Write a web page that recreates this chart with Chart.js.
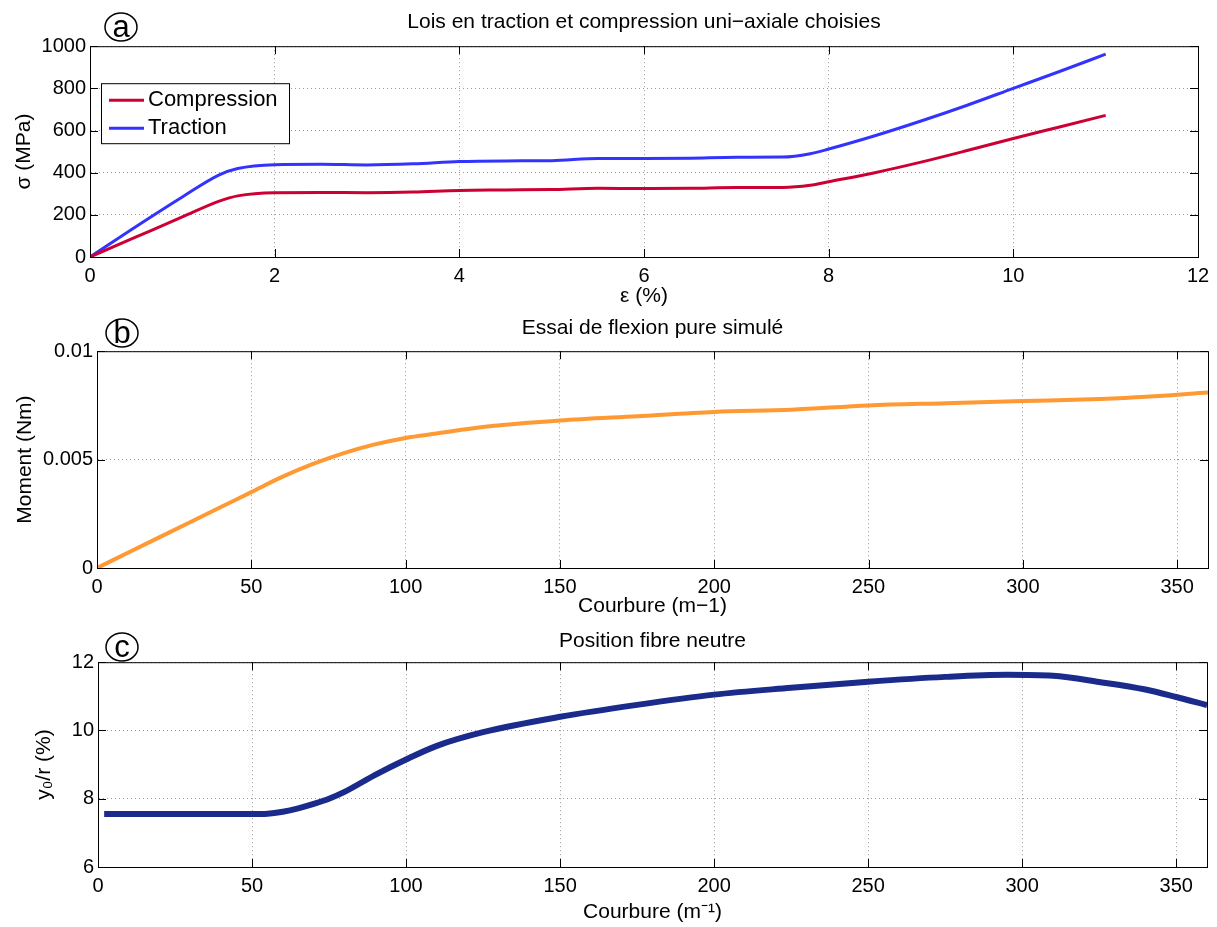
<!DOCTYPE html>
<html>
<head>
<meta charset="utf-8">
<script src="https://cdn.jsdelivr.net/npm/chart.js@4"></script>
<style>
  body { margin: 0; background: #fff; }
  .panel { position: absolute; left: 0; width: 1217px; }
</style>
</head>
<body>
<div class="panel" style="top:0;height:310px"><canvas id="chartA"></canvas></div>
<div class="panel" style="top:310px;height:310px"><canvas id="chartB"></canvas></div>
<div class="panel" style="top:620px;height:307px"><canvas id="chartC"></canvas></div>
<script>
// (a) uni-axial laws, strain in %
const strain = [0, 0.5, 1, 1.4, 1.6, 2, 2.5, 3, 3.5, 4, 4.5, 5, 5.5, 6, 6.5, 7, 7.5, 7.8, 8, 8.5, 9, 9.5, 10, 10.5, 11];
const compression = [0, 95, 190, 265, 290, 305, 306, 305, 308, 316, 318, 320, 326, 325, 326, 330, 330, 340, 357, 400, 450, 505, 562, 617, 672];
const traction = [0, 145, 285, 390, 420, 438, 440, 437, 442, 453, 456, 457, 467, 467, 469, 473, 474, 490, 512, 575, 645, 720, 800, 880, 962];

// (b) simulated pure bending
const curvB = [0, 10, 20, 30, 40, 50, 60, 70, 80, 90, 100, 110, 125, 150, 175, 200, 225, 250, 275, 300, 325, 340, 360];
const moment = [0, 0.0007, 0.0014, 0.0021, 0.0028, 0.0035, 0.0042, 0.0048, 0.0053, 0.0057, 0.0060, 0.0062, 0.0065, 0.0068, 0.0070, 0.0072, 0.0073, 0.0075, 0.0076, 0.0077, 0.0078, 0.0079, 0.0081];

// (c) neutral fibre position
const curvC = [2, 10, 20, 30, 40, 50, 55, 60, 65, 70, 75, 80, 90, 100, 110, 125, 150, 175, 200, 225, 250, 275, 295, 310, 325, 340, 350, 360];
const neutral = [7.55, 7.55, 7.55, 7.55, 7.55, 7.55, 7.56, 7.62, 7.72, 7.85, 8.0, 8.2, 8.7, 9.15, 9.55, 9.95, 10.4, 10.75, 11.05, 11.25, 11.43, 11.57, 11.63, 11.6, 11.42, 11.2, 10.98, 10.74];

const FONT = '"Liberation Sans", Arial, sans-serif';
Chart.defaults.color = '#000';
Chart.defaults.font.family = FONT;

const toXY = (xs, ys) => xs.map((x, i) => ({ x: x, y: ys[i] }));

// black box round the plot with inward ticks, like matlab
const frame = {
  id: 'frame',
  afterDatasetsDraw(chart) {
    const { ctx, chartArea: a, scales: { x, y } } = chart;
    ctx.save();
    ctx.strokeStyle = '#000';
    ctx.lineWidth = 1;
    ctx.strokeRect(a.left + 0.5, a.top + 0.5, a.right - a.left, a.bottom - a.top);
    ctx.beginPath();
    x.ticks.forEach(t => {
      const px = Math.round(x.getPixelForValue(t.value)) + 0.5;
      ctx.moveTo(px, a.bottom); ctx.lineTo(px, a.bottom - 8);
      ctx.moveTo(px, a.top); ctx.lineTo(px, a.top + 8);
    });
    y.ticks.forEach(t => {
      const py = Math.round(y.getPixelForValue(t.value)) + 0.5;
      ctx.moveTo(a.left, py); ctx.lineTo(a.left + 8, py);
      ctx.moveTo(a.right, py); ctx.lineTo(a.right - 8, py);
    });
    ctx.stroke();
    ctx.restore();
  }
};

// circled panel letter
const badge = {
  id: 'badge',
  afterDraw(chart, args, opts) {
    const ctx = chart.ctx;
    ctx.save();
    ctx.beginPath();
    ctx.ellipse(opts.x, opts.y, 16, 14, 0, 0, 2 * Math.PI);
    ctx.lineWidth = 1.5;
    ctx.strokeStyle = '#000';
    ctx.stroke();
    ctx.fillStyle = '#000';
    ctx.font = '31px ' + FONT;
    ctx.textAlign = 'center';
    ctx.textBaseline = 'middle';
    ctx.fillText(opts.letter, opts.x, opts.y + 1);
    ctx.restore();
  }
};

// boxed legend inside the plot
const legendBox = {
  id: 'legendBox',
  afterDraw(chart, args, opts) {
    if (!opts.show) return;
    const { ctx, chartArea: a } = chart;
    const left = a.left + 11, top = a.top + 37;
    ctx.save();
    ctx.fillStyle = '#fff';
    ctx.fillRect(left, top, 188, 60);
    ctx.strokeStyle = '#000';
    ctx.lineWidth = 1;
    ctx.strokeRect(left + 0.5, top + 0.5, 188, 60);
    chart.data.datasets.forEach((ds, i) => {
      const yy = top + 17 + i * 28;
      ctx.strokeStyle = ds.borderColor;
      ctx.lineWidth = 3;
      ctx.beginPath();
      ctx.moveTo(left + 8, yy);
      ctx.lineTo(left + 43, yy);
      ctx.stroke();
      ctx.fillStyle = '#000';
      ctx.font = '22px ' + FONT;
      ctx.textBaseline = 'middle';
      ctx.fillText(ds.label, left + 47, yy);
    });
    ctx.restore();
  }
};

function panel(id, o) {
  return new Chart(document.getElementById(id), {
    type: 'line',
    data: { datasets: o.datasets },
    options: {
      responsive: true,
      maintainAspectRatio: false,
      animation: false,
      layout: { padding: { left: 0, right: o.padRight, top: 0, bottom: 0 } },
      elements: { point: { radius: 0 }, line: { cubicInterpolationMode: 'monotone' } },
      plugins: {
        legend: { display: false },
        tooltip: { enabled: false },
        title: {
          display: true, text: o.title, fullSize: false,
          font: { size: 21, weight: 'normal' }, padding: o.titlePad
        },
        badge: o.badge,
        legendBox: { show: !!o.legend }
      },
      scales: {
        x: {
          type: 'linear', min: o.xMin, max: o.xMax,
          ticks: { stepSize: o.xStep, includeBounds: false, padding: 7, maxRotation: 0, font: { size: 20 } },
          grid: { color: '#999', drawTicks: false },
          border: { display: true, color: '#000', dash: [1, 3] },
          title: { display: true, text: o.xTitle, font: { size: 21 }, padding: { top: 0, bottom: o.xTitlePad } },
          afterFit: s => { s.height = o.xHeight; }
        },
        y: {
          min: o.yMin, max: o.yMax,
          ticks: { stepSize: o.yStep, padding: 4, font: { size: 20 }, callback: v => String(v) },
          grid: { color: '#999', drawTicks: false },
          border: { display: true, color: '#000', dash: [1, 3] },
          title: { display: true, text: o.yTitle, font: { size: 21 }, padding: { top: o.yTitlePad, bottom: 0 } },
          afterFit: s => { s.width = o.yWidth; }
        }
      }
    },
    plugins: [frame, badge, legendBox]
  });
}

panel('chartA', {
  datasets: [
    { label: 'Compression', data: toXY(strain, compression), borderColor: '#cc0033', borderWidth: 3 },
    { label: 'Traction', data: toXY(strain, traction), borderColor: '#3333ff', borderWidth: 3 }
  ],
  title: 'Lois en traction et compression uni\u2212axiale choisies',
  titlePad: { top: 10, bottom: 11 },
  xTitle: '\u03b5 (%)', yTitle: '\u03c3 (MPa)',
  xMin: 0, xMax: 12, xStep: 2, yMin: 0, yMax: 1000, yStep: 200,
  yWidth: 90, xHeight: 53, padRight: 19, yTitlePad: 12, xTitlePad: 1,
  badge: { letter: 'a', x: 121, y: 27 }, legend: true
});

panel('chartB', {
  datasets: [
    { label: 'Moment', data: toXY(curvB, moment), borderColor: '#ff9933', borderWidth: 4 }
  ],
  title: 'Essai de flexion pure simul\u00e9',
  titlePad: { top: 6, bottom: 10 },
  xTitle: 'Courbure (m\u22121)', yTitle: 'Moment (Nm)',
  xMin: 0, xMax: 360, xStep: 50, yMin: 0, yMax: 0.01, yStep: 0.005,
  yWidth: 97, xHeight: 52, padRight: 9, yTitlePad: 13, xTitlePad: 1,
  badge: { letter: 'b', x: 122, y: 23 }
});

panel('chartC', {
  datasets: [
    { label: 'y0/r', data: toXY(curvC, neutral), borderColor: '#1a2b8c', borderWidth: 6 }
  ],
  title: 'Position fibre neutre',
  titlePad: { top: 9, bottom: 8 },
  xTitle: 'Courbure (m\u207b\u00b9)', yTitle: 'y\u2080/r (%)',
  xMin: 0, xMax: 360, xStep: 50, yMin: 6, yMax: 12, yStep: 2,
  yWidth: 98, xHeight: 60, padRight: 10, yTitlePad: 32, xTitlePad: 2,
  badge: { letter: 'c', x: 122, y: 27 }
});
</script>
</body>
</html>
